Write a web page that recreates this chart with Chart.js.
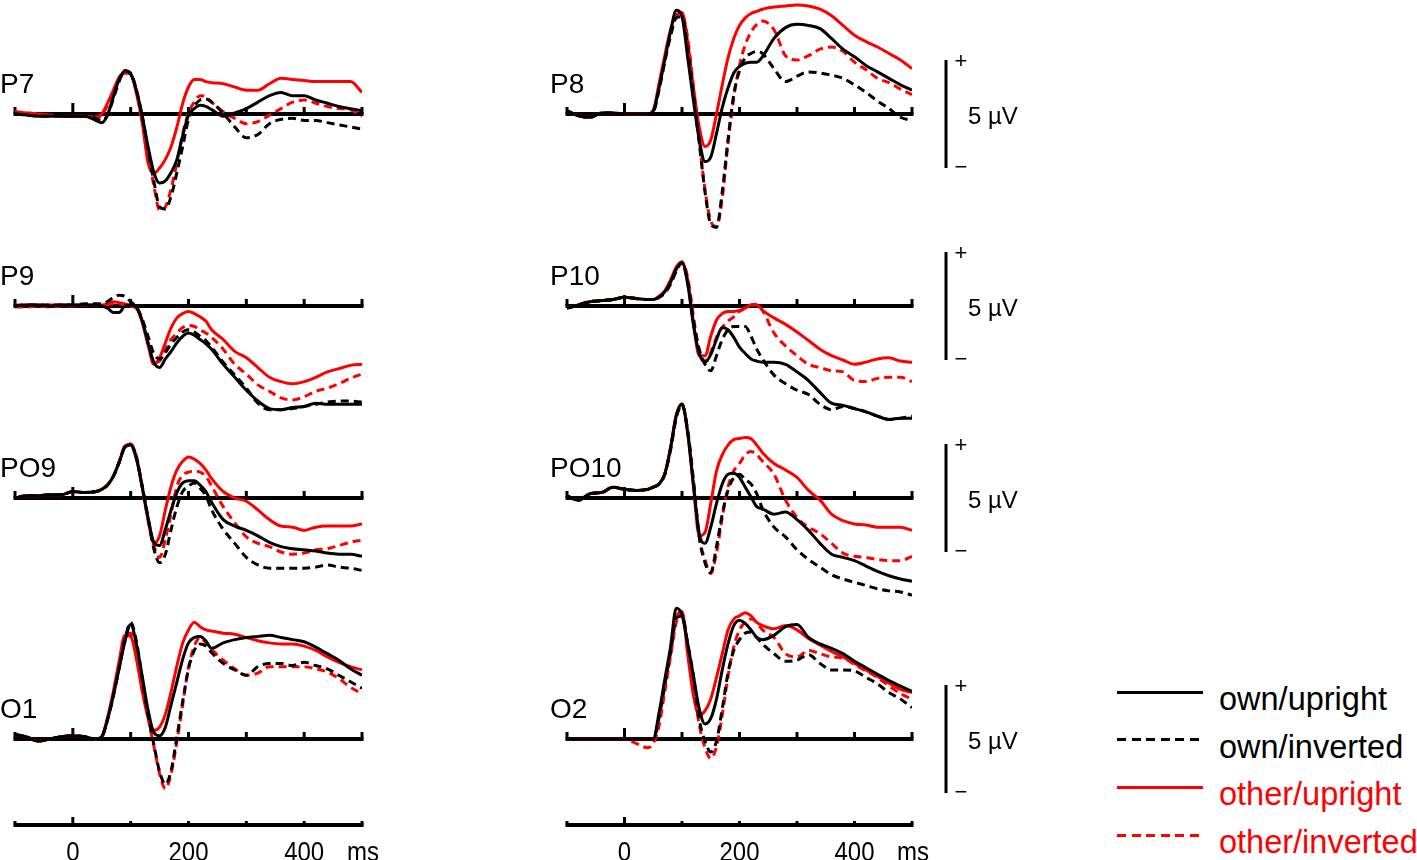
<!DOCTYPE html>
<html>
<head>
<meta charset="utf-8">
<title>ERP waveforms</title>
<script src="https://cdn.jsdelivr.net/npm/chart.js@4.4.1/dist/chart.umd.min.js"></script>
<style>
    html, body { margin: 0; padding: 0; background: #ffffff; }
    body { position: relative; width: 1417px; height: 860px; overflow: hidden; font-family: "Liberation Sans", Arial, sans-serif; }
    canvas { position: absolute; }
    .leg-line { position: absolute; height: 3px; }
    .leg-text { position: absolute; font-size: 32.5px; line-height: 33px; white-space: nowrap; }
</style>
</head>
<body>
<script>
// --- Time points (ms), ticks and labels ---
const times = [-100, -80, -60, -40, -20, 0, 20, 40, 50, 60, 70, 80, 90, 100, 110, 120, 130, 140, 150, 160, 170, 180, 190, 200, 210, 220, 230, 240, 260, 280, 300, 320, 340, 360, 380, 400, 420, 440, 460, 480, 500];
const tickTimes = [-100, 0, 100, 200, 300, 400, 500];
const tickLabelTimes = [0, 200, 400];
const tickLabels = ['0', '200', '400'];
const timeUnit = 'ms';
const channels = ['P7', 'P8', 'P9', 'P10', 'PO9', 'PO10', 'O1', 'O2'];
const conditions = ['own/upright', 'own/inverted', 'other/upright', 'other/inverted'];
const scaleBarUv = 5;

// --- Amplitudes (µV), one value per time point ---
const p7OwnUpright = [0, -0.05, -0.1, -0.1, -0.1, -0.1, -0.1, -0.3, -0.4, -0.05, 0.8, 1.6, 2.0, 1.85, 1.1, -0.1, -1.5, -2.7, -3.2, -3.1, -2.7, -2.1, -1.0, -0.05, 0.25, 0.4, 0.35, 0.2, -0.1, 0.05, 0.25, 0.55, 0.85, 1.0, 0.85, 0.85, 0.65, 0.5, 0.35, 0.25, 0.15];
const p7OwnInverted = [0, -0.05, -0.1, -0.1, -0.05, -0.1, -0.1, -0.2, -0.3, -0.05, 0.7, 1.5, 2.0, 1.9, 1.1, -0.1, -1.65, -3.1, -4.3, -4.4, -3.8, -2.7, -1.5, -0.25, 0.35, 0.65, 0.7, 0.55, 0.03, -0.6, -1.1, -0.95, -0.45, -0.25, -0.2, -0.3, -0.3, -0.4, -0.5, -0.6, -0.7];
const p7OtherUpright = [0.1, 0.05, 0, -0.05, -0.1, -0.1, -0.1, -0.15, 0, 0.5, 1.1, 1.7, 1.9, 1.85, 0.95, -0.4, -2.25, -2.75, -2.5, -2.1, -1.5, -0.6, 0.5, 1.25, 1.6, 1.6, 1.5, 1.45, 1.4, 1.25, 1.1, 1.1, 1.4, 1.65, 1.6, 1.55, 1.5, 1.5, 1.5, 1.5, 1.0];
const p7OtherInverted = [0.1, 0.05, 0, -0.05, -0.1, -0.1, -0.1, -0.15, -0.05, 0.4, 1.0, 1.6, 1.9, 1.85, 1.0, -0.3, -1.8, -3.3, -4.45, -4.3, -3.45, -2.25, -0.9, 0.05, 0.55, 0.85, 0.8, 0.55, 0.1, -0.2, -0.45, -0.35, -0.05, 0.25, 0.55, 0.65, 0.5, 0.35, 0.25, 0.2, -0.1];

const p8OwnUpright = [0.15, -0.08, -0.15, 0.05, 0.05, 0, 0, 0, 0.15, 1.2, 2.5, 3.8, 4.8, 4.5, 2.6, 0.6, -1.2, -2.2, -2.0, -0.9, 0.3, 1.2, 1.9, 2.2, 2.35, 2.4, 2.4, 2.65, 3.5, 4.0, 4.15, 4.1, 3.95, 3.5, 3.0, 2.65, 2.25, 1.95, 1.65, 1.35, 1.1];
const p8OwnInverted = [0.15, -0.08, -0.15, 0.05, 0.05, 0, 0, 0, 0.1, 1.1, 2.4, 3.6, 4.45, 4.5, 3.0, 0.9, -1.35, -3.6, -5.1, -5.25, -3.6, -1.2, 0.9, 2.0, 2.6, 2.8, 2.9, 2.8, 2.1, 1.5, 1.75, 1.95, 1.9, 1.8, 1.65, 1.35, 1.0, 0.6, 0.25, -0.15, -0.3];
const p8OtherUpright = [0.15, -0.08, -0.15, 0.05, 0.05, 0, 0, 0, 0.15, 1.4, 2.7, 3.9, 4.6, 4.7, 3.3, 1.2, -0.6, -1.5, -1.2, 0.0, 1.35, 2.6, 3.5, 4.1, 4.45, 4.65, 4.75, 4.85, 4.95, 5.0, 5.05, 5.0, 4.85, 4.55, 4.1, 3.65, 3.35, 3.1, 2.8, 2.5, 2.1];
const p8OtherInverted = [0.15, -0.08, -0.15, 0.05, 0.05, 0, 0, 0, 0.1, 1.2, 2.5, 3.7, 4.5, 4.6, 3.5, 1.2, -1.2, -3.5, -4.95, -5.2, -3.9, -1.35, 0.75, 2.25, 3.2, 3.8, 4.15, 4.3, 3.9, 2.7, 2.5, 2.7, 3.0, 3.1, 2.9, 2.4, 2.05, 1.65, 1.45, 1.15, 0.9];

const p9OwnUpright = [0, 0.05, 0.05, 0, 0.05, 0.05, 0.05, 0.05, 0, -0.1, -0.3, -0.3, 0.0, 0.05, -0.05, -0.7, -1.7, -2.6, -2.85, -2.45, -2.1, -1.7, -1.4, -1.25, -1.35, -1.55, -1.75, -2.0, -2.7, -3.3, -3.9, -4.4, -4.75, -4.8, -4.7, -4.65, -4.5, -4.55, -4.55, -4.55, -4.55];
const p9OwnInverted = [0, 0.05, 0.05, 0.05, 0.05, 0.05, 0.1, 0.1, 0.1, 0.2, 0.4, 0.5, 0.45, 0.2, -0.05, -0.6, -1.4, -2.2, -2.45, -2.15, -1.75, -1.45, -1.2, -1.1, -1.2, -1.4, -1.6, -1.9, -2.6, -3.2, -3.8, -4.5, -4.8, -4.8, -4.75, -4.65, -4.55, -4.45, -4.4, -4.4, -4.45];
const p9OtherUpright = [0.05, 0.05, 0.05, 0.05, 0.05, 0.05, 0.05, 0.05, 0.05, 0.1, 0.2, 0.15, 0.1, 0, -0.1, -0.75, -1.8, -2.7, -2.4, -1.7, -1.0, -0.55, -0.35, -0.25, -0.35, -0.5, -0.7, -1.1, -1.55, -2.1, -2.4, -2.85, -3.3, -3.5, -3.6, -3.5, -3.3, -3.05, -2.9, -2.75, -2.7];
const p9OtherInverted = [-0.05, -0.05, 0, -0.05, 0, 0, 0.05, 0.05, 0.05, 0.05, 0.1, 0.1, 0.05, 0, -0.1, -0.7, -1.7, -2.6, -2.55, -2.0, -1.55, -1.25, -1.0, -0.9, -0.95, -1.1, -1.25, -1.45, -2.0, -2.7, -3.15, -3.65, -3.95, -4.25, -4.35, -4.2, -3.95, -3.8, -3.6, -3.35, -3.15];

const p10OwnUpright = [-0.1, 0.05, 0.2, 0.25, 0.3, 0.4, 0.35, 0.3, 0.3, 0.4, 0.65, 1.1, 1.7, 2.0, 1.0, -0.9, -2.2, -2.6, -2.25, -1.55, -1.0, -1.1, -1.45, -1.9, -2.2, -2.45, -2.55, -2.6, -2.6, -2.7, -3.05, -3.45, -4.0, -4.5, -4.6, -4.75, -4.9, -5.1, -5.25, -5.2, -5.2];
const p10OwnInverted = [-0.1, 0.05, 0.2, 0.25, 0.3, 0.4, 0.35, 0.3, 0.3, 0.4, 0.6, 1.0, 1.6, 2.0, 1.1, -0.7, -2.0, -2.7, -3.0, -2.3, -1.55, -1.1, -0.95, -0.95, -0.95, -1.4, -2.0, -2.45, -3.2, -3.6, -3.9, -4.1, -4.55, -4.8, -4.65, -4.75, -4.9, -5.1, -5.25, -5.2, -5.1];
const p10OtherUpright = [-0.1, 0.05, 0.2, 0.25, 0.3, 0.4, 0.35, 0.3, 0.3, 0.45, 0.7, 1.2, 1.8, 2.05, 1.2, -0.8, -2.3, -2.3, -1.4, -0.65, -0.35, -0.25, -0.25, -0.2, -0.1, 0.05, 0.05, -0.2, -0.55, -0.85, -1.2, -1.6, -2.0, -2.3, -2.5, -2.7, -2.6, -2.45, -2.4, -2.55, -2.6];
const p10OtherInverted = [-0.1, 0.05, 0.2, 0.25, 0.3, 0.4, 0.35, 0.3, 0.3, 0.4, 0.65, 1.1, 1.7, 2.0, 1.3, -0.5, -2.15, -2.55, -2.15, -1.45, -1.0, -0.7, -0.5, -0.25, -0.1, 0.05, 0.08, -0.2, -1.25, -1.85, -2.3, -2.7, -2.85, -3.0, -3.05, -3.45, -3.5, -3.35, -3.3, -3.3, -3.5];

const po9OwnUpright = [0, 0.1, 0.1, 0.15, 0.15, 0.3, 0.25, 0.3, 0.4, 0.6, 1.0, 1.65, 2.35, 2.45, 1.8, 0.5, -0.9, -2.05, -2.2, -1.45, -0.55, 0.25, 0.7, 0.8, 0.8, 0.6, 0.3, -0.2, -1.0, -1.3, -1.5, -1.75, -2.05, -2.25, -2.35, -2.4, -2.45, -2.55, -2.6, -2.6, -2.7];
const po9OwnInverted = [0, 0.1, 0.1, 0.15, 0.15, 0.3, 0.25, 0.3, 0.4, 0.6, 1.0, 1.65, 2.35, 2.45, 1.85, 0.55, -0.9, -2.35, -3.0, -2.6, -1.45, -0.4, 0.3, 0.55, 0.7, 0.45, 0.1, -0.55, -1.45, -2.1, -2.75, -3.1, -3.25, -3.25, -3.25, -3.25, -3.2, -3.1, -3.2, -3.25, -3.35];
const po9OtherUpright = [0, 0.1, 0.1, 0.15, 0.15, 0.3, 0.25, 0.3, 0.4, 0.6, 1.0, 1.65, 2.4, 2.5, 1.9, 0.5, -1.0, -2.1, -1.75, -0.55, 0.55, 1.3, 1.7, 1.9, 1.8, 1.6, 1.3, 0.9, 0.3, 0.0, -0.15, -0.55, -1.0, -1.3, -1.35, -1.5, -1.35, -1.3, -1.3, -1.3, -1.2];
const po9OtherInverted = [0, 0.1, 0.1, 0.15, 0.15, 0.3, 0.25, 0.3, 0.4, 0.6, 1.0, 1.65, 2.4, 2.5, 1.9, 0.5, -1.0, -2.2, -2.75, -1.9, -0.7, 0.55, 1.05, 1.2, 1.25, 1.2, 1.0, 0.55, -0.4, -1.15, -1.8, -2.1, -2.25, -2.5, -2.6, -2.55, -2.4, -2.35, -2.2, -2.05, -1.95];

const po10OwnUpright = [0.1, -0.1, 0.2, 0.25, 0.5, 0.4, 0.35, 0.4, 0.5, 0.65, 1.1, 2.3, 3.8, 4.35, 3.0, 0.6, -1.65, -2.1, -1.35, -0.25, 0.65, 1.1, 1.15, 0.95, 0.5, 0.05, -0.4, -0.5, -0.75, -0.65, -1.0, -1.5, -2.1, -2.6, -2.75, -2.9, -3.15, -3.4, -3.6, -3.75, -3.85];
const po10OwnInverted = [0.1, -0.1, 0.2, 0.25, 0.5, 0.4, 0.35, 0.4, 0.5, 0.65, 1.1, 2.2, 3.7, 4.3, 3.1, 0.8, -1.8, -3.0, -3.45, -2.25, -0.75, 0.35, 0.95, 1.1, 0.85, 0.65, 0.2, -0.5, -1.35, -1.8, -2.4, -2.85, -3.2, -3.55, -3.75, -3.9, -4.05, -4.2, -4.3, -4.35, -4.5];
const po10OtherUpright = [0.1, -0.1, 0.2, 0.25, 0.5, 0.4, 0.35, 0.4, 0.5, 0.65, 1.1, 2.3, 3.85, 4.35, 3.0, 0.5, -1.75, -1.6, -0.25, 1.25, 2.0, 2.45, 2.7, 2.75, 2.8, 2.75, 2.45, 2.1, 1.6, 1.3, 0.95, 0.35, -0.1, -0.75, -1.05, -1.2, -1.25, -1.35, -1.35, -1.35, -1.5];
const po10OtherInverted = [0.1, -0.1, 0.2, 0.25, 0.5, 0.4, 0.35, 0.4, 0.5, 0.65, 1.1, 2.3, 3.8, 4.3, 3.1, 0.7, -1.8, -2.85, -3.5, -2.55, -0.9, 0.5, 1.25, 1.6, 2.0, 2.15, 2.0, 1.7, 1.1, -0.1, -0.9, -1.35, -1.65, -2.1, -2.55, -2.7, -2.75, -2.85, -2.9, -2.9, -2.7];

const o1OwnUpright = [0.2, 0.1, -0.1, 0, 0.1, 0.15, 0.1, 0, 0.1, 0.9, 2.0, 3.25, 4.5, 5.3, 4.4, 2.9, 1.35, 0.3, 0.15, 0.55, 1.6, 2.65, 3.7, 4.45, 4.7, 4.75, 4.55, 4.2, 4.45, 4.6, 4.7, 4.75, 4.8, 4.7, 4.6, 4.5, 4.25, 3.95, 3.65, 3.25, 2.95];
const o1OwnInverted = [0.2, 0.1, -0.1, 0, 0.1, 0.15, 0.1, 0, 0.1, 0.9, 2.0, 3.3, 4.6, 5.4, 4.5, 2.8, 1.1, -0.25, -1.5, -2.1, -1.45, 0.1, 1.75, 3.25, 4.1, 4.4, 4.3, 4.0, 3.5, 3.2, 2.95, 3.35, 3.5, 3.5, 3.4, 3.55, 3.4, 3.25, 2.95, 2.65, 2.35];
const o1OtherUpright = [0.2, 0.1, -0.1, 0, 0.1, 0.15, 0.1, 0, 0.1, 1.0, 2.2, 3.6, 4.8, 4.75, 3.7, 2.2, 1.0, 0.4, 0.55, 1.15, 2.2, 3.4, 4.45, 5.05, 5.4, 5.2, 5.05, 5.0, 4.9, 4.85, 4.7, 4.55, 4.45, 4.4, 4.4, 4.3, 4.1, 3.8, 3.55, 3.35, 3.2];
const o1OtherInverted = [0.2, 0.1, -0.1, 0, 0.1, 0.15, 0.1, 0, 0.1, 0.9, 2.0, 3.3, 4.7, 4.9, 4.2, 2.7, 1.0, -0.3, -1.6, -2.3, -1.6, -0.1, 1.6, 3.3, 4.3, 4.7, 4.45, 4.15, 3.65, 3.25, 2.95, 3.05, 3.35, 3.35, 3.35, 3.35, 3.25, 3.1, 2.8, 2.4, 2.1];

const o2OwnUpright = [0, 0, 0, 0, 0, 0, 0, 0, 0, 1.2, 2.75, 4.25, 6.05, 5.75, 4.4, 2.9, 1.4, 0.7, 0.95, 1.85, 3.2, 4.4, 5.25, 5.5, 5.35, 5.05, 4.7, 4.6, 4.8, 5.2, 5.3, 4.7, 4.4, 4.2, 3.95, 3.6, 3.3, 3.0, 2.7, 2.45, 2.2];
const o2OwnInverted = [0, 0, 0, 0, 0, 0, 0, 0, 0, 1.0, 2.5, 4.0, 5.6, 5.7, 4.4, 2.9, 0.9, -0.1, -0.6, -0.1, 1.4, 3.05, 4.1, 4.6, 4.9, 4.95, 4.7, 4.4, 3.95, 3.6, 3.65, 3.9, 3.5, 3.2, 3.2, 3.15, 2.85, 2.55, 2.15, 1.85, 1.45];
const o2OtherUpright = [0, 0, 0, 0, 0, 0, 0, 0, 0, 1.0, 2.5, 4.0, 5.6, 5.9, 3.9, 2.0, 1.1, 1.3, 1.85, 2.85, 3.95, 5.05, 5.55, 5.7, 5.85, 5.7, 5.4, 5.25, 5.1, 5.25, 5.05, 4.65, 4.35, 4.05, 3.8, 3.5, 3.2, 2.9, 2.6, 2.3, 2.15];
const o2OtherInverted = [0, 0, 0, 0, 0, 0, -0.2, -0.4, -0.2, 0.6, 2.2, 3.8, 5.4, 5.8, 4.3, 2.4, 0.65, -0.4, -0.9, -0.35, 1.1, 2.9, 4.25, 5.05, 5.4, 5.55, 5.4, 5.05, 4.7, 3.95, 3.8, 4.1, 3.95, 3.8, 3.75, 3.45, 3.15, 2.85, 2.45, 2.1, 1.85];

// --- Series per channel, in the order of `conditions` ---
const channelSeries = {
    P7: [p7OwnUpright, p7OwnInverted, p7OtherUpright, p7OtherInverted],
    P8: [p8OwnUpright, p8OwnInverted, p8OtherUpright, p8OtherInverted],
    P9: [p9OwnUpright, p9OwnInverted, p9OtherUpright, p9OtherInverted],
    P10: [p10OwnUpright, p10OwnInverted, p10OtherUpright, p10OtherInverted],
    PO9: [po9OwnUpright, po9OwnInverted, po9OtherUpright, po9OtherInverted],
    PO10: [po10OwnUpright, po10OwnInverted, po10OtherUpright, po10OtherInverted],
    O1: [o1OwnUpright, o1OwnInverted, o1OtherUpright, o1OtherInverted],
    O2: [o2OwnUpright, o2OwnInverted, o2OtherUpright, o2OtherInverted]
};

// --- Look and layout ---
const FONT = '"Liberation Sans", Arial, sans-serif';
const seriesStyles = [
    { color: '#000000', dash: [] },
    { color: '#000000', dash: [8, 5] },
    { color: '#ff0000', dash: [] },
    { color: '#ff0000', dash: [8, 5] }
];
const pxPerUv = 21.6;
const panelHeight = 302;
const colLeft = [0, 550];
const colWidth = [380, 480];
const colPad = [{ left: 15, right: 18 }, { left: 17, right: 118 }];
const rowZero = [114, 306, 498, 739];
const bottomAxisZero = 825;

// Baseline with time ticks, channel name, optional scale bar and time labels
const erpAxisPlugin = {
    id: 'erpAxis',
    beforeDatasetsDraw: function(chart, args, opts) {
        const ctx = chart.ctx;
        const xs = chart.scales.x;
        const ys = chart.scales.y;
        const y0 = ys.getPixelForValue(0);
        const xStart = xs.getPixelForValue(tickTimes[0]);
        const xEnd = xs.getPixelForValue(tickTimes[tickTimes.length - 1]);
        const zeroTick = opts.zeroTick || 11;
        const otherTick = opts.otherTick || 7;

        ctx.save();
        ctx.strokeStyle = '#000000';
        ctx.fillStyle = '#000000';
        ctx.lineWidth = 4;
        ctx.beginPath();
        ctx.moveTo(xStart - 1.5, y0);
        ctx.lineTo(xEnd + 1.5, y0);
        ctx.stroke();

        ctx.lineWidth = 3;
        tickTimes.forEach(function(t) {
            const px = xs.getPixelForValue(t);
            ctx.beginPath();
            ctx.moveTo(px, y0);
            ctx.lineTo(px, y0 - (t === 0 ? zeroTick : otherTick));
            ctx.stroke();
        });

        if (opts.label) {
            ctx.font = '28px ' + FONT;
            ctx.textAlign = 'left';
            ctx.textBaseline = 'alphabetic';
            ctx.fillText(opts.label, 0, y0 - 21);
        }

        if (opts.timeLabels) {
            // labels in the reference are a little taller than wide
            ctx.font = '24px ' + FONT;
            ctx.textAlign = 'center';
            ctx.textBaseline = 'alphabetic';
            const yText = y0 + 36;
            tickLabelTimes.forEach(function(t, i) {
                ctx.save();
                ctx.translate(xs.getPixelForValue(t), yText);
                ctx.scale(1, 1.18);
                ctx.fillText(tickLabels[i], 0, 0);
                ctx.restore();
            });
            ctx.save();
            ctx.translate(xEnd + 1, yText);
            ctx.scale(1, 1.18);
            ctx.fillText(timeUnit, 0, 0);
            ctx.restore();
        }

        if (opts.scaleBarX) {
            const bx = opts.scaleBarX;
            const top = ys.getPixelForValue(scaleBarUv / 2);
            const bottom = ys.getPixelForValue(-scaleBarUv / 2);
            ctx.lineWidth = 3;
            ctx.beginPath();
            ctx.moveTo(bx, top);
            ctx.lineTo(bx, bottom);
            ctx.stroke();
            ctx.font = '22px ' + FONT;
            ctx.textAlign = 'center';
            ctx.textBaseline = 'middle';
            ctx.fillText('+', bx + 15, top + 2);
            ctx.fillText('\u2212', bx + 15, bottom);
            ctx.font = '24px ' + FONT;
            ctx.textAlign = 'left';
            ctx.textBaseline = 'alphabetic';
            ctx.fillText(scaleBarUv + ' \u00b5V', bx + 22, y0 + 10);
        }
        ctx.restore();
    }
};

function makeCanvas(left, top, width, height) {
    const canvas = document.createElement('canvas');
    canvas.width = width;
    canvas.height = height;
    canvas.style.left = left + 'px';
    canvas.style.top = top + 'px';
    canvas.style.width = width + 'px';
    canvas.style.height = height + 'px';
    document.body.appendChild(canvas);
    return canvas;
}

function baseOptions(col, yMin, yMax, axisOpts) {
    return {
        responsive: false,
        animation: false,
        events: [],
        devicePixelRatio: 1,
        layout: { padding: { left: colPad[col].left, right: colPad[col].right, top: 0, bottom: 0 } },
        plugins: {
            legend: { display: false },
            tooltip: { enabled: false },
            erpAxis: axisOpts
        },
        scales: {
            x: { type: 'linear', min: tickTimes[0], max: tickTimes[tickTimes.length - 1], display: false },
            y: { type: 'linear', min: yMin, max: yMax, display: false }
        },
        elements: {
            point: { radius: 0 },
            line: { borderWidth: 3, cubicInterpolationMode: 'monotone' }
        }
    };
}

document.addEventListener('DOMContentLoaded', function() {
    const halfUv = (panelHeight / 2) / pxPerUv;

    // --- One chart per electrode ---
    channels.forEach(function(name, idx) {
        const row = Math.floor(idx / 2);
        const col = idx % 2;
        const canvas = makeCanvas(colLeft[col], rowZero[row] - panelHeight / 2, colWidth[col], panelHeight);
        const datasets = channelSeries[name].map(function(values, s) {
            return {
                label: conditions[s],
                data: times.map(function(t, i) { return { x: t, y: values[i] }; }),
                borderColor: seriesStyles[s].color,
                borderDash: seriesStyles[s].dash,
                borderWidth: 3,
                fill: false
            };
        });
        new Chart(canvas.getContext('2d'), {
            type: 'line',
            data: { datasets: datasets },
            options: baseOptions(col, -halfUv, halfUv, {
                label: name,
                scaleBarX: col === 1 ? 946 - colLeft[1] : null
            }),
            plugins: [erpAxisPlugin]
        });
    });

    // --- Time axes under each column ---
    [0, 1].forEach(function(col) {
        const canvas = makeCanvas(colLeft[col], bottomAxisZero - 30, 380, 70);
        const opts = baseOptions(col, -40, 30, { timeLabels: true, zeroTick: 8, otherTick: 4 });
        opts.layout.padding.right = col === 0 ? 18 : 380 - 345 - 17;
        new Chart(canvas.getContext('2d'), {
            type: 'line',
            data: { datasets: [] },
            options: opts,
            plugins: [erpAxisPlugin]
        });
    });

    // --- Legend ---
    conditions.forEach(function(name, i) {
        const lineY = 692 + i * 47.7;
        const style = seriesStyles[i];
        const line = document.createElement('div');
        line.className = 'leg-line';
        line.style.left = '1117px';
        line.style.top = (lineY - 1.5) + 'px';
        line.style.width = '86px';
        line.style.background = style.dash.length
            ? 'repeating-linear-gradient(to right, ' + style.color + ' 0 9px, transparent 9px 14.5px)'
            : style.color;
        document.body.appendChild(line);

        const text = document.createElement('div');
        text.className = 'leg-text';
        text.textContent = name;
        text.style.color = style.color;
        text.style.left = '1219px';
        text.style.top = (lineY + 19 - 28) + 'px';
        document.body.appendChild(text);
    });
});
</script>
</body>
</html>
